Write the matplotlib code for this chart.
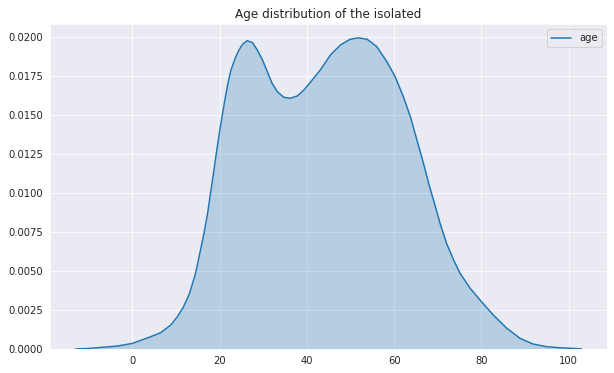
import matplotlib
matplotlib.use("Agg")
import matplotlib.pyplot as plt
import seaborn as sns

# KDE curve of age
age = [-13.1, -10.2, -7.2, -3.4, 0.0, 4.2, 6.5, 8.8, 10.3, 11.7, 13.0, 14.1,
       14.5, 15.3, 16.4, 17.2, 17.9, 18.6, 19.2, 19.9, 20.6, 21.2, 21.8, 22.5,
       23.5, 24.3, 25.2, 26.3, 27.5, 28.6, 29.8, 30.9, 32.0, 33.2, 34.7, 36.2,
       37.8, 39.3, 40.8, 43.1, 45.4, 47.7, 49.9, 51.8, 53.8, 56.0, 58.3, 60.2,
       62.1, 63.7, 65.2, 66.7, 68.0, 69.0, 70.5, 72.0, 73.6, 75.1, 77.4, 80.0,
       82.7, 85.8, 88.8, 91.8, 94.9, 97.9, 102.9]
density = [0.00000, 0.00003, 0.00010, 0.00019, 0.00036, 0.00079, 0.00105,
           0.00154, 0.00207, 0.00270, 0.00350, 0.00450, 0.00490, 0.00595,
           0.00742, 0.00865, 0.01000, 0.01130, 0.01250, 0.01380, 0.01500,
           0.01600, 0.01690, 0.01780, 0.01860, 0.01910, 0.01952, 0.01976,
           0.01964, 0.01917, 0.01853, 0.01778, 0.01703, 0.01649, 0.01613,
           0.01607, 0.01622, 0.01660, 0.01710, 0.01790, 0.01885, 0.01949,
           0.01985, 0.01994, 0.01985, 0.01938, 0.01842, 0.01746, 0.01617,
           0.01489, 0.01340, 0.01190, 0.01050, 0.00955, 0.00806, 0.00677,
           0.00571, 0.00485, 0.00389, 0.00303, 0.00218, 0.00133, 0.00069,
           0.00032, 0.00015, 0.00008, 0.00001]

sns.set_style("darkgrid")

fig = plt.figure(figsize=(614 / 72, 373 / 72), dpi=72)
ax = fig.add_axes([50 / 614, 24 / 373, 556.7 / 614, 325 / 373])

ax.plot(age, density, color="#1f77b4", lw=1.5, label="age")
ax.fill_between(age, density, color="#1f77b4", alpha=0.25, lw=0)
ax.set_ylim(0, 0.02083)
ax.set_yticks([0.0025 * i for i in range(9)])
ax.yaxis.set_major_formatter(matplotlib.ticker.FormatStrFormatter("%.4f"))
ax.set_title("Age distribution of the isolated", fontsize=12)
ax.legend(loc="upper right")

fig.savefig("out.png", dpi=72)
